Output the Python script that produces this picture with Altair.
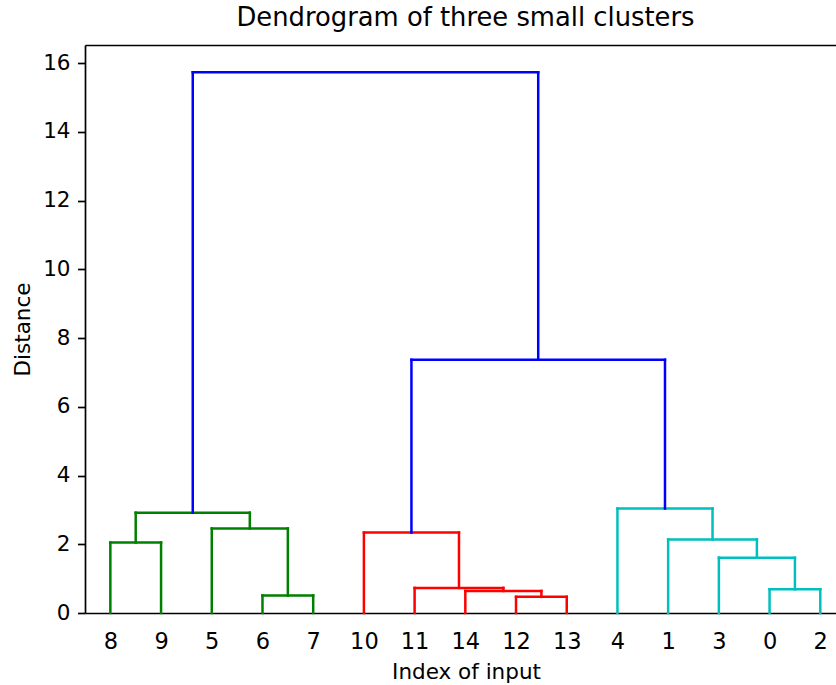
import json
import altair as alt
import pandas as pd

# ---- data ----
leaf_order = ["8", "9", "5", "6", "7", "10", "11", "14", "12", "13", "4", "1", "3", "0", "2"]

# merges: cluster "c{i}" joins merge_a[i] and merge_b[i] at merge_height[i]
merge_a = ["8", "6", "5", "c0", "12", "14", "11", "10", "0", "3", "1", "4", "c7", "c3"]
merge_b = ["9", "7", "c1", "c2", "13", "c4", "c5", "c6", "2", "c8", "c9", "c10", "c11", "c12"]
merge_height = [2.05, 0.51, 2.46, 2.92, 0.47, 0.64, 0.73, 2.34, 0.69, 1.61, 2.14, 3.04, 7.37, 15.74]
merge_color = ["g", "g", "g", "g", "r", "r", "r", "r", "c", "c", "c", "c", "b", "b"]

color_names = ["g", "r", "c", "b"]
color_values = ["#008000", "#ff0000", "#00bfbf", "#0000ff"]

# ---- build the dendrogram geometry (scipy convention: leaves at 5, 15, 25, ...) ----
pos = {}
for i, lab in enumerate(leaf_order):
    pos[lab] = (5 + 10 * i, 0.0)

rows = []
for i, (a, b, h, c) in enumerate(zip(merge_a, merge_b, merge_height, merge_color)):
    xa, ya = pos[a]
    xb, yb = pos[b]
    rows.append(dict(x=xa, x2=xa, y=ya, y2=h, col=c))
    rows.append(dict(x=xa, x2=xb, y=h, y2=h, col=c))
    rows.append(dict(x=xb, x2=xb, y=yb, y2=h, col=c))
    pos[f"c{i}"] = ((xa + xb) / 2, h)

seg = pd.DataFrame(rows)
leaf_df = pd.DataFrame({"x": [5 + 10 * i for i in range(len(leaf_order))], "label": leaf_order})

FONT = "DejaVu Sans"
FS = 21.5
x_max = 148.1
y_max = 16.53
label_expr = "%s[(datum.value - 5) / 10]" % json.dumps(leaf_order)

x_scale = alt.Scale(domain=[0, x_max], nice=False, zero=False)
y_scale = alt.Scale(domain=[0, y_max], nice=False, zero=True)

lines = alt.Chart(seg).mark_rule(strokeWidth=2.5, strokeCap="square").encode(
    x=alt.X("x:Q", scale=x_scale,
            axis=alt.Axis(values=[5 + 10 * i for i in range(len(leaf_order))],
                          labelExpr=label_expr, ticks=False, tickSize=0,
                          labelPadding=35, labelBaseline="alphabetic",
                          labelFontSize=22.5, labelColor="black", labelFont=FONT,
                          grid=False, domainColor="black", domainWidth=1.7,
                          title="Index of input", titleFont=FONT, titleFontSize=FS,
                          titleFontWeight="normal", titleColor="black",
                          titleBaseline="alphabetic", titleY=65, titleX=381,
                          labelOverlap=False, labelFlush=False)),
    x2="x2:Q",
    y=alt.Y("y:Q", scale=y_scale,
            axis=alt.Axis(values=list(range(0, 17, 2)), tickSize=7.5, tickColor="black",
                          tickWidth=1.7, labelPadding=7.5, labelFontSize=FS,
                          labelColor="black", labelFont=FONT, grid=False,
                          domainColor="black", domainWidth=1.7,
                          title="Distance", titleFont=FONT, titleFontSize=FS,
                          titleFontWeight="normal", titleColor="black",
                          titleBaseline="alphabetic", titleX=-56, titleY=284,
                          titleAngle=-90, labelFlush=False)),
    y2="y2:Q",
    color=alt.Color("col:N", scale=alt.Scale(domain=color_names, range=color_values), legend=None),
)

top_spine = alt.Chart(leaf_df).mark_point(opacity=0).encode(
    x=alt.X("x:Q", scale=x_scale,
            axis=alt.Axis(orient="top", labels=False, ticks=False, title=None,
                          grid=False, domainColor="black", domainWidth=1.7)),
)

chart = alt.layer(lines, top_spine).resolve_axis(x="independent").properties(
    width=751,
    height=568,
    title=alt.TitleParams("Dendrogram of three small clusters", font=FONT, fontSize=25.8,
                          fontWeight="normal", color="black", baseline="alphabetic",
                          offset=16, dx=5, dy=22.5),
    autosize=alt.AutoSizeParams(type="none"),
    padding={"left": 85, "top": 45, "right": 0, "bottom": 72},
).configure_view(stroke=None).configure(background="white")

chart.save("out.html", embed_options={"renderer": "svg", "actions": False})
